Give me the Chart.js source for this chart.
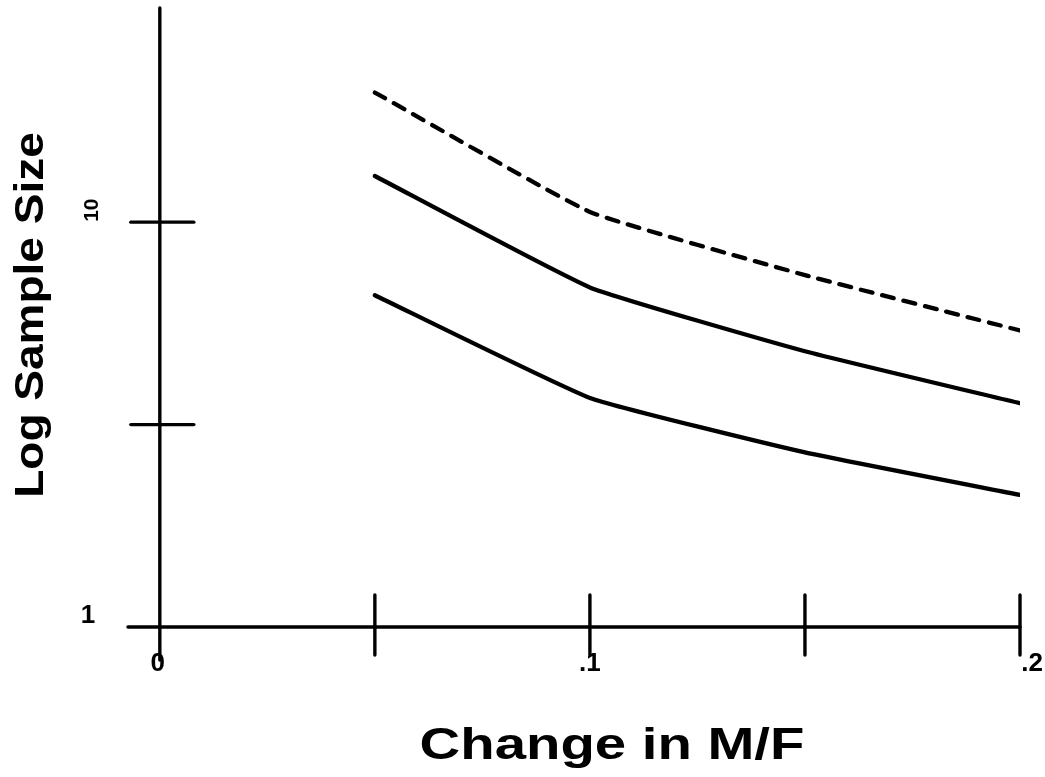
<!DOCTYPE html>
<html>
<head>
<meta charset="utf-8">
<script src="https://cdn.jsdelivr.net/npm/chart.js@4.4.0/dist/chart.umd.min.js"></script>
<style>
html,body{margin:0;padding:0;background:#fff;}
#wrap{width:1045px;height:777px;position:relative;}
</style>
</head>
<body>
<div id="wrap"><canvas id="c" width="1045" height="777"></canvas></div>
<script>
// Data (log-scale values)
const changeMF = [0.05, 0.10, 0.15, 0.20];
const dashedSeries = [20.9, 10.6, 7.4, 5.4];
const upperSeries = [13.0, 6.9, 4.8, 3.57];
const lowerSeries = [6.6, 3.68, 2.7, 2.12];
const xTickValues = [0, 0.05, 0.10, 0.15, 0.20];
const xTickLabels = ['0', '', '.1', '', '.2'];
const yTickValues = [1, 3.162, 10];
const yTickLabels = ['1', '', '10'];
const xTitle = 'Change in M/F';
const yTitle = 'Log Sample Size';

function pts(ys){ return changeMF.map((x,i)=>({x:x,y:ys[i]})); }

const axesPlugin = {
  id: 'handAxes',
  beforeDatasetsDraw(chart){
    const ctx = chart.ctx, xs = chart.scales.x, ys = chart.scales.y, a = chart.chartArea;
    ctx.save();
    ctx.strokeStyle = '#000';
    ctx.lineWidth = 3.4;
    ctx.lineCap = 'round';
    const x0 = xs.getPixelForValue(0), y1 = ys.getPixelForValue(1);
    // x axis
    ctx.beginPath(); ctx.moveTo(a.left, y1); ctx.lineTo(xs.getPixelForValue(0.2), y1); ctx.stroke();
    // y axis
    ctx.beginPath(); ctx.moveTo(x0, a.top); ctx.lineTo(x0, a.bottom); ctx.stroke();
    // x tick marks
    xTickValues.forEach(v=>{
      if (v===0) return;
      const px = xs.getPixelForValue(v);
      ctx.beginPath(); ctx.moveTo(px, y1-32); ctx.lineTo(px, y1+28); ctx.stroke();
    });
    // y tick marks
    yTickValues.forEach(v=>{
      if (v===1) return;
      const py = ys.getPixelForValue(v);
      ctx.beginPath(); ctx.moveTo(x0-29, py); ctx.lineTo(x0+34, py); ctx.stroke();
    });
    // tick labels
    ctx.fillStyle = '#000';
    ctx.font = 'bold 26px "Liberation Sans"';
    ctx.textAlign = 'center'; ctx.textBaseline = 'middle';
    xTickValues.forEach((v,i)=>{
      if (!xTickLabels[i]) return;
      ctx.fillText(xTickLabels[i], xs.getPixelForValue(v) + (i===4?12:(i===0?-2:0)), y1+37);
    });
    yTickValues.forEach((v,i)=>{
      if (!yTickLabels[i]) return;
      const py = ys.getPixelForValue(v);
      if (v===1) { ctx.fillText(yTickLabels[i], 88, py-11); }
      else {
        ctx.save(); ctx.translate(92, py-12); ctx.rotate(-Math.PI/2);
        ctx.font = 'bold 21px "Liberation Sans"';
        ctx.fillText(yTickLabels[i], 0, 0); ctx.restore();
      }
    });
    // titles
    ctx.font = 'bold 44px "Liberation Sans"';
    ctx.save(); ctx.translate(612, 747); ctx.scale(1.28, 1);
    ctx.fillText(xTitle, 0, 0); ctx.restore();
    ctx.font = 'bold 40px "Liberation Sans"';
    ctx.save(); ctx.translate(32, 315); ctx.rotate(-Math.PI/2); ctx.scale(1.15, 1);
    ctx.fillText(yTitle, 0, 0); ctx.restore();
    ctx.restore();
  }
};

const common = {borderColor:'#000', borderWidth:4.3, pointRadius:0, fill:false, tension:0.12, borderCapStyle:'round', borderJoinStyle:'round'};

new Chart(document.getElementById('c'), {
  type: 'line',
  data: {
    datasets: [
      Object.assign({label:'dashed', data: pts(dashedSeries), borderDash:[12,10]}, common),
      Object.assign({label:'upper', data: pts(upperSeries)}, common),
      Object.assign({label:'lower', data: pts(lowerSeries)}, common)
    ]
  },
  options: {
    responsive: false,
    animation: false,
    layout: { padding: { left: 128, right: 25, top: 8, bottom: 117 } },
    plugins: { legend: {display:false}, tooltip: {enabled:false} },
    scales: {
      x: { type:'linear', min:-0.0074, max:0.2, display:false },
      y: { type:'logarithmic', min:0.829, max:33.8, display:false }
    }
  },
  plugins: [axesPlugin]
});
</script>
</body>
</html>
